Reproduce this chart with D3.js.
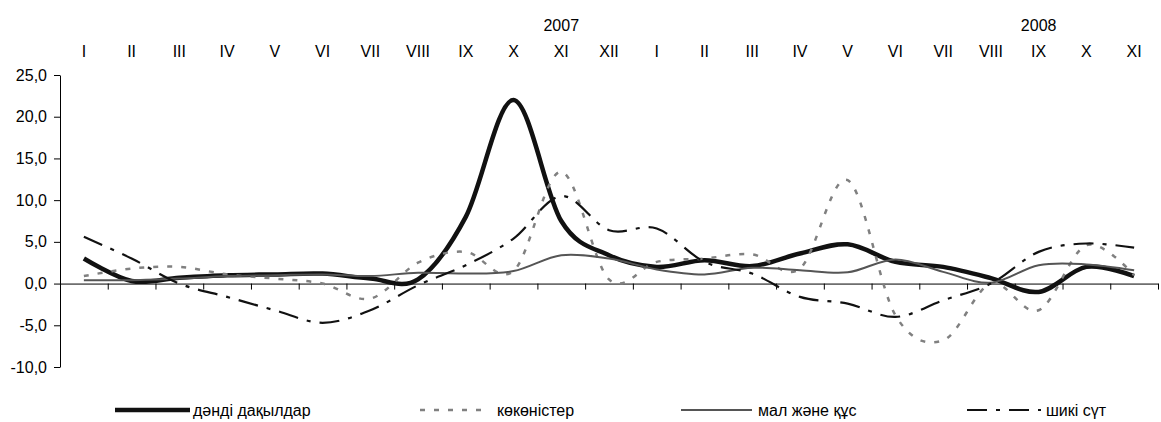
<!DOCTYPE html>
<html><head><meta charset="utf-8">
<script src="https://cdn.jsdelivr.net/npm/d3@7"></script>
<style>body{margin:0;background:#fff}svg{display:block;font-family:"Liberation Sans",Arial,sans-serif}</style>
</head><body><svg id="c" width="1161" height="422"></svg>
<script>
const months = ["I","II","III","IV","V","VI","VII","VIII","IX","X","XI","XII","I","II","III","IV","V","VI","VII","VIII","IX","X","XI"];
const yearLabels = [{label:"2007", idx:10},{label:"2008", idx:20}];
const yTicks = [-10,-5,0,5,10,15,20,25];
const grain =      [3.0,0.3,0.7,1.0,1.1,1.2,0.6,0.5,8.0,22.0,7.5,3.4,2.0,2.8,2.1,3.6,4.7,2.6,2.0,0.65,-1.0,2.0,0.9];
const vegetables = [0.9,1.8,2.0,1.1,0.6,0.0,-1.8,2.5,3.8,1.5,13.4,0.5,2.6,3.0,3.5,1.8,12.4,-3.8,-6.8,0.0,-3.2,4.6,1.0];
const livestock =  [0.4,0.4,0.6,0.9,1.0,1.1,0.9,1.3,1.2,1.5,3.4,3.0,1.7,1.1,1.9,1.6,1.35,2.9,1.4,0.1,2.2,2.3,1.6];
const milk =       [5.6,3.0,0.0,-1.6,-3.2,-4.7,-3.2,-0.2,2.2,5.4,10.5,6.4,6.6,2.6,1.2,-1.6,-2.4,-4.0,-2.0,0.0,3.8,4.8,4.3];
const seriesNames = ["дәнді дақылдар","көкөністер","мал және құс","шикі сүт"];

const series = [
  {name:seriesNames[0], values:grain, color:"#111", width:4.5, dash:null},
  {name:seriesNames[1], values:vegetables, color:"#808080", width:2.5, dash:"5,9"},
  {name:seriesNames[2], values:livestock, color:"#555", width:2, dash:null},
  {name:seriesNames[3], values:milk, color:"#111", width:2.2, dash:"20,9,4,9"}
];

const svg = d3.select("#c");
const x = d3.scaleBand().domain(d3.range(months.length)).range([60,1158]).padding(0);
const xb = d3.scaleLinear().domain([0,months.length]).range([60,1158]);
const y = d3.scaleLinear().domain([-10,25]).range([367,75]);
const FONT = "Liberation Sans, Arial, sans-serif";

// y axis
const ya = svg.append("g").attr("transform","translate(60,0)")
  .call(d3.axisLeft(y).tickValues(yTicks).tickFormat(d=>d3.format(".1f")(d).replace(".",",").replace("−","-")).tickSize(6).tickPadding(7).tickSizeOuter(0));
ya.select(".domain").attr("stroke","#000").attr("stroke-width",1);
ya.selectAll("line").attr("stroke","#000");
ya.selectAll("text").attr("font-size",16).attr("fill","#000").attr("font-family",FONT);

// x axis at zero
const xa = svg.append("g").attr("transform",`translate(0,${y(0)})`)
  .call(d3.axisBottom(xb).tickValues(d3.range(1,months.length+1)).tickFormat("").tickSize(6).tickSizeOuter(0));
xa.select(".domain").attr("stroke","#000");
xa.selectAll("line").attr("stroke","#000");

// month labels on top
const ma = svg.append("g").attr("transform","translate(0,60)")
  .call(d3.axisTop(x).tickFormat(i=>months[i]).tickSize(0));
ma.select(".domain").remove();
ma.selectAll("text").attr("font-size",16).attr("fill","#000").attr("font-family",FONT);

svg.append("g").selectAll("text").data(yearLabels).join("text")
  .attr("x",d=>x(d.idx)+x.bandwidth()/2).attr("y",31).attr("text-anchor","middle")
  .attr("font-size",16).text(d=>d.label);

const line = d3.line().x((d,i)=>x(i)+x.bandwidth()/2).y(d=>y(d)).curve(d3.curveCatmullRom.alpha(0));
svg.append("g").selectAll("path").data(series).join("path")
  .attr("d",d=>line(d.values)).attr("fill","none")
  .attr("stroke",d=>d.color).attr("stroke-width",d=>d.width)
  .attr("stroke-dasharray",d=>d.dash);

// legend
const legendPos = [{x1:115,x2:190,tx:193},{x1:420,x2:484,tx:497},{x1:681,x2:752,tx:758},{x1:967,x2:1041,tx:1046}];
const lg = svg.append("g").selectAll("g").data(series).join("g");
lg.append("line").attr("x1",(d,i)=>legendPos[i].x1).attr("x2",(d,i)=>legendPos[i].x2)
  .attr("y1",410).attr("y2",410).attr("stroke",d=>d.color).attr("stroke-width",d=>d.width)
  .attr("stroke-dasharray",d=>d.dash);
lg.append("text").attr("x",(d,i)=>legendPos[i].tx).attr("y",416).attr("font-size",16).text(d=>d.name);
</script></body></html>
